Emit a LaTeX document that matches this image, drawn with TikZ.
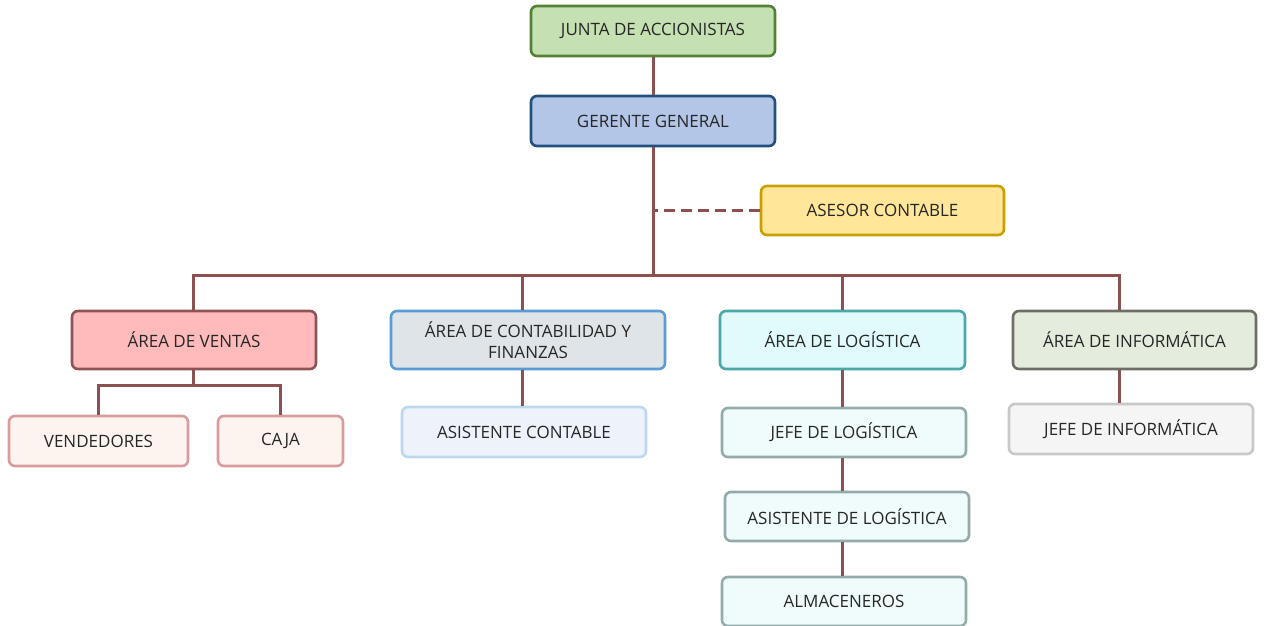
\documentclass[tikz,border=0pt]{standalone}
\usepackage{fontspec}
\setmainfont{Open Sans}
\begin{document}
\begin{tikzpicture}[x=1pt,y=-1pt,
  box/.style={rounded corners=6pt, line width=2.6pt, minimum width=244pt, minimum height=50pt,
    inner sep=2pt, text=black!85, font=\fontsize{17}{21}\selectfont, align=center},
  link/.style={draw=linkc, line width=3pt}]
\definecolor{linkc}{HTML}{8C5050}
\definecolor{juntaF}{HTML}{C5E0B3}\definecolor{juntaD}{HTML}{548235}
\definecolor{gerF}{HTML}{B4C6E7}\definecolor{gerD}{HTML}{22507E}
\definecolor{aseF}{HTML}{FFE699}\definecolor{aseD}{HTML}{C9A000}
\definecolor{venF}{HTML}{FFBBBB}\definecolor{venD}{HTML}{8E5454}
\definecolor{conF}{HTML}{DFE4E8}\definecolor{conD}{HTML}{5B9BD5}
\definecolor{logF}{HTML}{E1FBFC}\definecolor{logD}{HTML}{4AA8A8}
\definecolor{infF}{HTML}{E3ECDD}\definecolor{infD}{HTML}{6E6E66}
\definecolor{vcF}{HTML}{FDF4F0}\definecolor{vcD}{HTML}{D99C9C}
\definecolor{acF}{HTML}{EEF3FB}\definecolor{acD}{HTML}{BDD7EE}
\definecolor{lcF}{HTML}{F0FCFC}\definecolor{lcD}{HTML}{93ABAB}
\definecolor{jiF}{HTML}{F5F5F5}\definecolor{jiD}{HTML}{C8C8C8}
\useasboundingbox (0,0) rectangle (1264,625);

% top of the hierarchy
\node[box, fill=juntaF, draw=juntaD] (junta) at (653,31) {JUNTA DE ACCIONISTAS};
\node[box, fill=gerF, draw=gerD] (gerente) at (653,121) {GERENTE GENERAL};
\node[box, fill=aseF, draw=aseD, minimum width=243pt, minimum height=49pt] (asesor) at (882.5,210.5) {ASESOR CONTABLE};

% areas
\node[box, fill=venF, draw=venD, minimum height=58pt] (ventas) at (194,340) {ÁREA DE VENTAS};
\node[box, fill=conF, draw=conD, minimum width=274pt, minimum height=58pt] (contab) at (528,340) {ÁREA DE CONTABILIDAD Y\\FINANZAS};
\node[box, fill=logF, draw=logD, minimum width=245pt, minimum height=58pt] (logis) at (842.5,340) {ÁREA DE LOGÍSTICA};
\node[box, fill=infF, draw=infD, minimum width=243pt, minimum height=58pt] (inform) at (1134.5,340) {ÁREA DE INFORMÁTICA};

% staff under each area
\node[box, fill=vcF, draw=vcD, minimum width=179pt] (vend) at (98.5,441) {VENDEDORES};
\node[box, fill=vcF, draw=vcD, minimum width=125pt] (caja) at (280.5,441) {CAJA};
\node[box, fill=acF, draw=acD] (asistc) at (524,432) {ASISTENTE CONTABLE};
\node[box, fill=lcF, draw=lcD, minimum height=49pt] (jefelog) at (844,432.5) {JEFE DE LOGÍSTICA};
\node[box, fill=lcF, draw=lcD, minimum height=49pt] (asislog) at (847,516.5) {ASISTENTE DE LOGÍSTICA};
\node[box, fill=lcF, draw=lcD, minimum height=49pt] (almac) at (844,601.5) {ALMACENEROS};
\node[box, fill=jiF, draw=jiD] (jefeinf) at (1131,429) {JEFE DE INFORMÁTICA};

% junction points
\coordinate (bus) at (653,275);
\coordinate (vbus) at (193,385);
\coordinate (conX) at (522,0);
\coordinate (logX) at (842,0);
\coordinate (infX) at (1119,0);

% connectors
\draw[link] (junta.south) -- (gerente.north);
\draw[link] (gerente.south) -- (bus);
\draw[link, dash pattern=on 11pt off 6pt] (asesor.west) -- (asesor.west -| bus);
\draw[link] (ventas.north -| vbus) |- (bus) -| (inform.north -| infX);
\draw[link] (contab.north -| conX) -- (bus -| conX);
\draw[link] (logis.north -| logX) -- (bus -| logX);
\draw[link] (ventas.south -| vbus) -- (vbus);
\draw[link] (vend.north) |- (vbus) -| (caja.north);
\draw[link] (contab.south -| conX) -- (asistc.north -| conX);
\draw[link] (logis.south -| logX) -- (jefelog.north -| logX);
\draw[link] (jefelog.south -| logX) -- (asislog.north -| logX);
\draw[link] (asislog.south -| logX) -- (almac.north -| logX);
\draw[link] (inform.south -| infX) -- (jefeinf.north -| infX);
\end{tikzpicture}
\end{document}
